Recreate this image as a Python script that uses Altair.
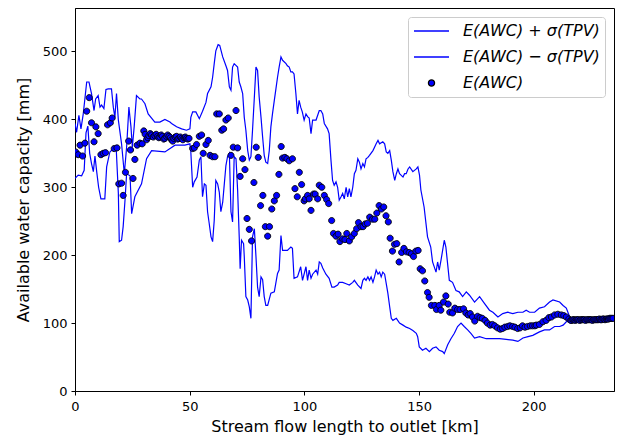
import altair as alt
import pandas as pd

# ---- data (km, mm) ----
upper = [(0.0,394),(0.7,381),(1.7,406),(2.6,386),(3.6,408),(5.1,455),(6.1,455),(7.2,438),(8.3,413),(9.0,430),
         (10.1,435),(10.9,418),(11.6,421),(12.6,416),(13.5,444),(14.5,445),(15.9,445),(16.7,418),(17.4,403),(18.1,438),
         (18.9,399),(20.3,364),(21.5,320),(22.5,359),(23.5,418),(24.4,389),(25.0,359),(25.8,389),(26.8,435),(28.3,430),
         (29.0,430),(30.5,423),(31.9,408),(34.8,396),(37.0,396),(39.2,400),(41.4,396),(42.1,394),(44.3,389),(46.5,386),
         (48.6,384),(50.1,386),(50.5,403),(51.3,411),(52.7,411),(54.2,401),(55.6,412),(57.1,425),(57.8,438),(59.3,448),
         (60.0,462),(60.7,482),(61.4,501),(62.4,510),(63.1,509),(64.4,492),(65.8,479),(66.5,472),(67.3,448),(68.0,443),
         (68.7,477),(69.4,482),(70.9,477),(71.6,455),(72.3,448),(73.1,438),(73.8,403),(74.5,384),(75.3,354),(76.0,340),
         (76.7,345),(77.4,384),(78.2,433),(78.9,477),(79.6,472),(80.3,433),(81.1,403),(81.8,374),(82.5,347),(83.2,337),
         (84.0,335),(84.7,354),(85.4,389),(86.1,408),(86.9,428),(87.6,445),(88.3,462),(89.0,477),(89.8,492),(90.5,487),
         (92.0,482),(92.6,479),(93.4,477),(94.1,470),(94.8,470),(95.5,467),(96.3,438),(97.0,408),(97.7,428),(98.4,418),
         (99.1,411),(99.9,399),(100.7,408),(101.4,404),(102.1,402),(102.9,379),(103.6,399),(105.1,399),(106.5,413),(107.2,413),
         (108.0,408),(108.7,394),(110.1,386),(110.8,379),(111.6,340),(112.3,310),(113.0,303),(113.8,308),(114.5,300),(115.2,281),
         (116.0,286),(116.7,291),(117.4,283),(118.2,300),(118.9,286),(119.6,298),(120.3,286),(121.1,300),(121.8,320),(122.5,325),
         (123.3,342),(124.0,337),(124.7,327),(125.5,335),(126.2,330),(126.9,342),(127.7,344),(128.4,347),(129.9,354),(130.6,359),
         (131.3,364),(132.1,369),(132.8,364),(134.2,367),(135.0,364),(135.7,352),(136.4,350),(137.2,354),(137.9,340),(138.6,323),
         (139.4,310),(140.1,320),(140.8,327),(141.5,320),(143.0,315),(143.7,320),(144.4,320),(145.2,327),(145.9,330),(147.3,323),
         (148.8,327),(149.5,330),(150.2,318),(150.8,296),(152.2,271),(153.7,227),(155.1,212),(155.9,190),(157.4,175),(158.1,190),
         (158.8,178),(159.6,193),(161.0,222),(161.7,212),(163.2,163),(164.6,160),(166.1,148),(167.5,146),(169.0,139),(170.6,146),
         (172.0,141),(174.2,131),(176.4,139),(178.5,129),(180.7,119),(182.2,116),(184.4,109),(186.5,114),(188.7,116),(190.9,114),
         (193.1,116),(195.3,116),(196.7,119),(198.2,116),(200.4,116),(202.5,122),(204.7,124),(206.9,131),(208.4,134),(211.3,131),
         (212.8,126),(214.2,122),(215.7,109),(216.4,104),(218.0,105),(222.0,105),(226.0,105),(230.0,106),(232.0,106),(235.0,107)]

lower = [(0.0,313),(1.4,318),(2.9,317),(4.0,325),(4.8,380),(5.6,390),(6.4,350),(7.2,335),(8.0,323),(8.7,346),
         (9.5,322),(10.3,300),(11.3,283),(13.0,283),(13.8,330),(15.2,352),(16.7,357),(18.0,355),(18.9,291),(19.3,220),
         (20.3,222),(21.0,242),(21.8,281),(22.5,320),(24.0,317),(24.7,261),(26.1,286),(29.0,305),(31.2,342),(33.4,354),
         (39.2,352),(43.6,362),(47.9,362),(50.1,364),(50.5,352),(51.3,300),(52.0,308),(53.2,315),(54.2,340),(54.9,345),
         (55.6,286),(56.4,305),(57.1,303),(57.8,264),(58.5,247),(59.3,227),(60.0,220),(60.7,251),(61.4,310),(62.2,305),
         (62.9,293),(63.6,264),(64.4,278),(65.1,305),(65.8,332),(66.5,345),(67.3,350),(68.0,264),(68.7,249),(69.4,345),
         (70.2,342),(70.9,296),(71.6,227),(72.0,180),(72.6,222),(73.5,217),(73.8,198),(74.5,139),(75.3,134),(76.0,124),
         (76.7,107),(77.4,227),(78.2,239),(78.9,198),(79.6,153),(80.3,139),(81.1,168),(81.8,164),(82.5,139),(83.2,126),
         (84.0,126),(85.4,144),(86.9,146),(88.3,173),(89.0,178),(89.8,229),(90.5,207),(92.6,207),(94.1,212),(94.8,210),
         (95.5,166),(97.0,168),(98.4,183),(99.2,163),(100.7,183),(101.4,163),(102.1,178),(102.9,166),(103.6,172),(105.1,178),
         (105.8,172),(106.5,190),(107.2,188),(108.0,181),(109.4,172),(110.8,166),(112.0,153),(113.0,153),(114.5,156),(115.2,160),
         (116.7,160),(118.2,158),(119.6,156),(121.1,160),(121.8,163),(123.3,156),(124.7,151),(125.5,163),(126.2,166),(126.9,163),
         (127.7,168),(128.4,163),(129.1,168),(129.9,160),(130.6,168),(131.3,178),(132.1,172),(132.8,175),(133.5,168),(134.2,175),
         (135.0,172),(135.7,158),(136.4,144),(137.2,124),(137.9,107),(138.6,104),(140.1,107),(141.5,100),(143.0,97),(144.4,94),
         (145.9,92),(147.3,89),(148.8,85),(149.4,80),(150.1,65),(151.5,60),(153.0,63),(154.5,58),(155.9,63),(157.4,65),
         (158.8,60),(160.3,58),(161.0,55),(162.5,68),(163.9,77),(165.4,85),(166.8,95),(168.3,100),(169.7,95),(171.2,90),
         (172.6,85),(174.2,78),(176.4,80),(179.3,77),(182.2,77),(185.1,77),(188.0,76),(190.9,75),(193.1,73),(195.3,78),
         (197.5,80),(199.6,82),(202.5,87),(204.7,90),(206.9,90),(209.1,95),(211.3,95),(212.8,97),(214.2,102),(215.7,104),
         (216.4,105),(218.0,105),(222.0,105),(226.0,105),(230.0,106),(232.0,106),(235.0,107)]

points = [(0.3,352),(1.4,348),(2.2,362),(3.3,346),(4.3,365),(5.1,412),(6.2,432),(7.2,395),(8.3,367),(9.1,389),
          (10.1,379),(11.3,348),(12.3,350),(13.3,351),(14.2,392),(15.4,395),(16.2,402),(17.1,357),(18.3,358),(19.1,305),
          (20.3,306),(21.0,288),(22.0,322),(23.4,368),(24.2,355),(25.3,313),(26.1,341),(27.1,362),(28.3,365),(29.3,364),
          (30.0,383),(30.6,378),(31.2,370),(31.8,373),(32.2,376),(32.8,379),(33.4,377),(34.1,374),(34.8,376),(35.4,378),
          (36.0,375),(36.5,373),(37.0,374),(37.6,377),(38.1,375),(38.7,371),(39.2,372),(39.8,375),(40.4,377),(41.0,375),
          (41.6,373),(42.1,370),(42.6,368),(43.1,372),(43.7,374),(44.3,375),(44.8,371),(45.3,372),(45.9,374),(46.5,372),
          (47.0,370),(47.6,373),(48.1,374),(48.6,372),(49.2,371),(49.7,372),
          (51.3,357),(52.0,358),(53.0,363),(54.2,375),(55.2,377),(55.9,350),(57.1,363),(58.1,369),(58.9,347),(60.0,345),
          (61.0,345),(61.8,408),(62.9,408),(64.0,384),(64.8,386),(65.8,399),(66.8,402),(68.0,347),(69.0,359),(70.2,413),
          (70.9,358),(72.0,316),(73.1,342),(74.1,326),(75.0,254),(76.0,238),(77.0,221),(78.0,307),(79.0,359),(79.9,344),
          (80.9,273),(81.9,288),(83.0,242),(84.0,228),(84.8,242),(85.8,268),(86.9,280),(87.9,288),(88.9,319),(89.9,360),
          (90.5,343),(91.5,344),(92.4,342),(93.4,339),(94.8,342),(95.9,298),(96.9,286),(97.8,322),(98.8,304),(99.9,280),
          (100.4,283),(101.4,288),(102.1,283),(102.9,266),(104.0,290),(104.7,290),(105.8,283),(106.5,303),(107.6,300),(108.7,288),
          (109.7,282),(110.6,276),(111.9,251),(112.7,232),(113.8,228),(114.7,231),(115.5,220),(116.7,224),(117.7,223),(118.5,232),
          (119.6,221),(120.6,227),(121.8,232),(122.8,239),(123.6,248),(124.7,242),(125.6,242),(126.5,246),(127.5,247),(128.5,256),
          (129.7,253),(130.7,253),(131.6,262),(132.6,273),(133.6,268),(134.6,271),(135.6,258),(136.6,249),(137.4,225),(138.4,206),
          (139.3,216),(140.3,217),(141.3,190),(142.4,204),(143.4,210),(144.5,205),(145.7,204),(146.7,202),(147.6,198),(148.6,206),
          (149.6,207),(150.5,180),(151.5,177),(152.5,162),(153.7,145),(154.4,138),(155.4,126),(156.9,126),(157.6,120),(158.8,126),
          (159.5,119),(160.7,131),(161.7,140),(162.7,128),(163.4,116),(164.6,115),(165.6,122),(166.8,120),(167.9,120),(169.4,121),
          (170.4,115),(171.4,112),(172.3,114),(173.3,109),(174.3,103),(175.5,110),(176.6,108),(177.6,107),(178.8,104),(179.8,100),
          (181.0,97),(182.0,98),(183.0,96),(184.2,93),(185.4,91),(186.4,92),(187.4,94),(188.6,95),(189.6,96),(190.8,95),
          (191.8,94),(193.0,92),(194.1,93),(195.1,96),(196.2,94),(197.3,95),(198.5,96),(199.5,96),(200.5,96),(201.1,97),
          (202.5,98),(204.0,102),(205.4,104),(206.6,108),(207.7,109),(209.1,112),(210.5,113),(212.0,112),(213.1,111),(214.2,109),
          (215.3,106),(216.1,104)]

tail_x = [216.6,217.1,217.6,218.1,218.6,219.1,219.6,220.1,220.6,221.1,221.6,222.1,222.6,223.1,223.6,224.1,224.6,225.1,
          225.6,226.1,226.6,227.1,227.6,228.1,228.6,229.1,229.6,230.1,230.6,231.1,231.6,232.1,232.6,233.1,233.6,234.1,234.6]
tail_y = [104,105,105,104,105,105,105,104,105,105,105,105,104,105,105,105,105,105,
          104,105,105,105,105,105,106,105,105,106,106,105,106,106,106,107,107,107,107]

S_UP = "E(AWC) + σ(TPV)"
S_LO = "E(AWC) − σ(TPV)"
S_E = "E(AWC)"
series_names = [S_UP, S_LO, S_E]

x_ticks = [0, 50, 100, 150, 200]
y_ticks = [0, 100, 200, 300, 400, 500]

# ---- tables ----
lines_df = pd.DataFrame(
    [{"km": x, "awc": y, "series": S_UP} for x, y in upper]
    + [{"km": x, "awc": y, "series": S_LO} for x, y in lower]
)
pts_df = pd.DataFrame(
    [{"km": x, "awc": y, "series": S_E} for x, y in points + list(zip(tail_x, tail_y))]
)

BLUE = "#0000ff"
xs = alt.Scale(domain=[0, 235], nice=False, zero=False)
ys = alt.Scale(domain=[0, 564], nice=False)
stroke_scale = alt.Scale(domain=series_names, range=[BLUE, BLUE, "#000000"])
LINE_PATH = "M-1,0H1"
R = 0.175
CIRCLE_PATH = f"M-{R},0A{R},{R},0,1,0,{R},0A{R},{R},0,1,0,-{R},0Z"
shape_scale = alt.Scale(domain=series_names, range=[LINE_PATH, LINE_PATH, CIRCLE_PATH])

legend_props = dict(
    title=None, orient="none", legendX=333, legendY=9,
    fillColor="white", strokeColor="#cccccc", cornerRadius=3, padding=5,
    labelFont="DejaVu Sans", labelFontSize=16, labelFontStyle="italic", labelColor="black",
    labelOffset=13, symbolSize=1225, symbolStrokeWidth=1.3, clipHeight=18, rowPadding=8,
    labelLimit=300,
)

x_enc = alt.X("km:Q", scale=xs, title="Stream flow length to outlet [km]",
              axis=alt.Axis(values=x_ticks, labelFlush=False, labelPadding=5, titlePadding=5))
y_enc = alt.Y("awc:Q", scale=ys, title="Available water capacity [mm]",
              axis=alt.Axis(values=y_ticks, labelPadding=4, titlePadding=11))

lines = alt.Chart(lines_df).mark_line(strokeWidth=1.2, clip=True).encode(
    x=x_enc, y=y_enc,
    stroke=alt.Stroke("series:N", scale=stroke_scale, legend=alt.Legend(**legend_props)),
)

pts = alt.Chart(pts_df).mark_point(
    filled=True, fill=BLUE, size=1225, strokeWidth=0.9, opacity=1, clip=True
).encode(
    x=x_enc, y=y_enc,
    stroke=alt.Stroke("series:N", scale=stroke_scale, legend=alt.Legend(**legend_props)),
    shape=alt.Shape("series:N", scale=shape_scale, legend=alt.Legend(**legend_props)),
)

chart = alt.layer(lines, pts).properties(
    width=539, height=383,
    autosize=alt.AutoSizeParams(type="none"),
    padding={"left": 75, "top": 8, "right": 5, "bottom": 47},
    background="white",
).configure_axis(
    labelFont="DejaVu Sans", titleFont="DejaVu Sans", labelFontSize=13, titleFontSize=16,
    titleFontWeight="normal", labelColor="black", titleColor="black",
    domainColor="black", tickColor="black", tickSize=4, grid=False,
).configure_view(stroke="black", strokeWidth=1)

chart.save("out.html", embed_options={"renderer": "svg", "actions": False})
